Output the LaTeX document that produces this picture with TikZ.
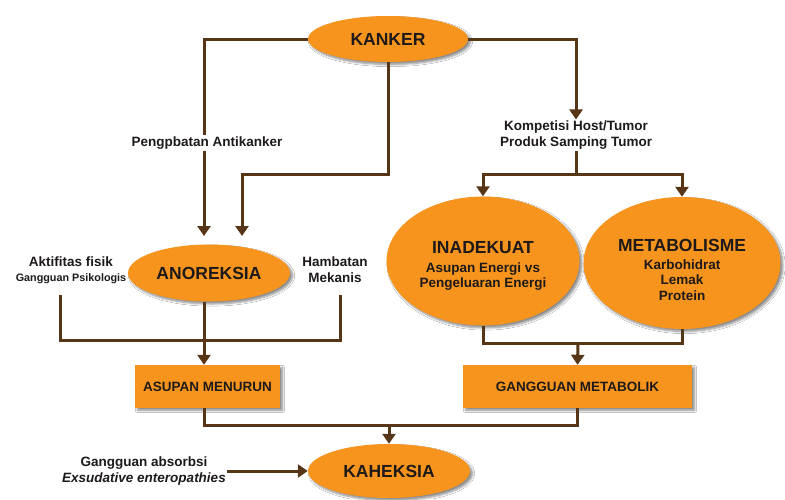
\documentclass[tikz,border=0pt]{standalone}
\usepackage{fontspec}
\setmainfont{Liberation Sans}
\usetikzlibrary{shapes.geometric,arrows.meta,shadows.blur}
\definecolor{orng}{HTML}{F7941D}
\definecolor{brn}{HTML}{573617}
\definecolor{txt}{HTML}{1E1A1A}
\begin{document}
\begin{tikzpicture}[x=1pt,y=-1pt,
  shad/.style={blur shadow={shadow xshift=2.5pt,shadow yshift=-2.5pt,shadow blur steps=6,shadow opacity=45}},
  oval/.style={ellipse,fill=orng,inner sep=0pt,text=txt,shad,
    font=\bfseries\fontsize{17.5}{20}\selectfont},
  ovtext/.style={text=txt,align=center,inner sep=0pt,
    font=\bfseries\fontsize{13.5}{15.5}\selectfont},
  boxn/.style={rectangle,fill=orng,inner sep=0pt,text=txt,shad,
    minimum height=43pt,font=\bfseries\fontsize{13.5}{16}\selectfont},
  lbl/.style={text=txt,align=center,inner sep=1pt,
    font=\bfseries\fontsize{13.5}{16}\selectfont},
  conn/.style={draw=brn,line width=3pt},
  arr/.style={conn,-{Triangle[width=13pt,length=10pt]}}
]
\useasboundingbox (0,0) rectangle (785,499);
\fill[white] (0,0) rectangle (785,499);

% shapes
\node[oval,minimum width=160pt,minimum height=46pt] (kanker) at (388,39) {KANKER};
\node[oval,minimum width=162pt,minimum height=57pt] (anoreksia) at (209,273) {ANOREKSIA};
\node[oval,minimum width=193pt,minimum height=129pt] (inadekuat) at (483,261) {};
\node[ovtext] at (483,266) {{\fontsize{17.5}{20}\selectfont INADEKUAT}\\[3pt]Asupan Energi vs\\Pengeluaran Energi};
\node[oval,minimum width=197pt,minimum height=132pt] (metab) at (682,263) {};
\node[ovtext] at (682,270) {{\fontsize{17.5}{20}\selectfont METABOLISME}\\[2pt]Karbohidrat\\Lemak\\Protein};
\node[oval,minimum width=162pt,minimum height=54pt] (kaheksia) at (389,471) {KAHEKSIA};
\node[boxn,minimum width=145pt] (asupan) at (207.5,386.5) {ASUPAN MENURUN};
\node[boxn,minimum width=229pt] (gangguan) at (577.5,386.5) {GANGGUAN METABOLIK};

% labels
\node[lbl] (peng) at (207,143) {Pengpbatan Antikanker};
\node[lbl] (komp) at (576,135) {Kompetisi Host/Tumor\\Produk Samping Tumor};
\node[lbl,font=\bfseries\fontsize{10.8}{15}\selectfont] (aktif) at (71,270)
  {{\fontsize{13.5}{16}\selectfont Aktifitas fisik}\\Gangguan Psikologis};
\node[lbl] (hamb) at (335,270) {Hambatan\\Mekanis};
\node[lbl] (absorb) at (144,471) {Gangguan absorbsi\\\textit{Exsudative enteropathies}};

% helper coordinates
\coordinate (t1) at (204,236);
\coordinate (t2) at (242,236);
\coordinate (c1) at (242,174);
\coordinate (br) at (576,174);
\coordinate (mrg) at (578,343);
\coordinate (l1) at (60,295);
\coordinate (l2) at (60,340);
\coordinate (r2) at (340,340);
\coordinate (r1) at (340,295);
\coordinate (m2) at (389,425);

% connectors
\draw[conn] (kanker.west) -| (peng.north -| t1);
\draw[arr] (peng.south -| t1) -- (t1);
\draw[arr] (kanker.south) |- (c1) -- (t2);
\draw[arr] (kanker.east) -| (komp.north);
\draw[conn] (komp.south) -- (br);
\draw[arr] (br) -| (inadekuat.north);
\draw[arr] (br) -| (metab.north);
\draw[conn] (inadekuat.south) |- (mrg) -| (metab.south);
\draw[arr] (mrg) -- (gangguan.north);
\draw[conn] (l1) -- (l2) -- (r2) -- (r1);
\draw[arr] (anoreksia.south -| t1) -- (asupan.north -| t1);
\draw[conn] (asupan.south -| t1) |- (m2) -| (gangguan.south);
\draw[arr] (m2) -- (kaheksia.north);
\draw[arr] (absorb.east |- kaheksia.west) -- (kaheksia.west);
\end{tikzpicture}
\end{document}
